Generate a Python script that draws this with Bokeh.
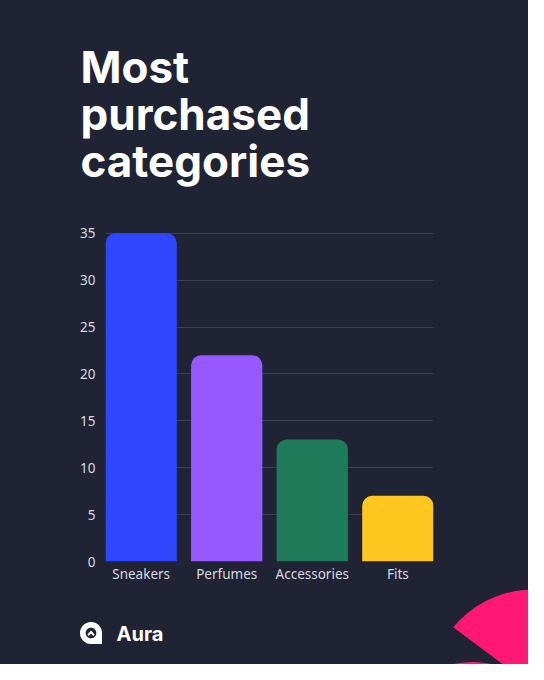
import numpy as np
from bokeh.plotting import figure
from bokeh.layouts import column
from bokeh.models import FactorRange, Range1d, ColumnDataSource
from bokeh.core.properties import value
from bokeh.embed import file_html
from bokeh.resources import INLINE

# ---- data ----
categories = ["Sneakers", "Perfumes", "Accessories", "Fits"]
purchases = [35, 22, 13, 7]
bar_colors = ["#2f47ff", "#9658ff", "#1f7a5a", "#ffc720"]
y_ticks = [0, 5, 10, 15, 20, 25, 30, 35]
title_lines = ["Most", "purchased", "categories"]
brand = "Aura"

# ---- style / layout (pixel positions) ----
BG = "#1f2334"
PINK = "#ff1774"
W = 528
A_H, B_TOP, B_BOT, C_BOT = 205, 205, 589, 664
FL, FR, FT, FB = 105, 433, 230, 561     # chart frame edges in page px
BG_STYLE = {"background-color": BG}


def blank(height, y0, y1):
    f = figure(width=W, height=height, x_range=Range1d(0, W), y_range=Range1d(y1, y0),
               output_backend="svg", toolbar_location=None,
               x_axis_location=None, y_axis_location=None, min_border=0,
               background_fill_color=BG, border_fill_color=BG, outline_line_color=None,
               frame_align=False, styles=BG_STYLE)
    f.grid.visible = False
    return f


# ---- title figure ----
top = blank(A_H, 0, A_H)
top.text(x=[80] * 3, y=[66, 113, 160], text=title_lines,
         text_font=value("Inter"), text_font_style="bold", text_font_size="44px",
         text_color="#ffffff", text_baseline="alphabetic", text_align="left")

# ---- chart figure ----
p = figure(width=W, height=B_BOT - B_TOP,
           x_range=FactorRange(*categories, factor_padding=0.2, range_padding=0),
           y_range=Range1d(0, 35.3),
           output_backend="svg", toolbar_location=None,
           min_border_left=FL, min_border_right=W - FR,
           min_border_top=FT - B_TOP, min_border_bottom=B_BOT - FB,
           background_fill_color=BG, border_fill_color=BG,
           outline_line_color=None, frame_align=False, styles=BG_STYLE)

src = ColumnDataSource(dict(cat=categories, val=purchases, color=bar_colors))
p.vbar(x="cat", top="val", width=1.0, bottom=0, color="color", source=src,
       line_color=None, border_radius=(10, 10, 0, 0))

p.xgrid.grid_line_color = None
p.ygrid.grid_line_color = "#ffffff"
p.ygrid.grid_line_alpha = 0.12
p.ygrid.ticker = y_ticks

for ax in (p.xaxis[0], p.yaxis[0]):
    ax.axis_line_color = None
    ax.major_tick_line_color = None
    ax.minor_tick_line_color = None
    ax.major_tick_out = 0
    ax.major_tick_in = 0
    ax.minor_tick_out = 0
    ax.major_label_text_color = "#d8dae0"
    ax.major_label_text_font = "Noto Sans"
    ax.major_label_text_font_size = "13.5px"
p.yaxis.ticker = y_ticks
p.yaxis.major_label_standoff = 10
p.xaxis.major_label_standoff = 3

# ---- bottom figure: brand + decoration ----
bot = blank(C_BOT - B_BOT, B_BOT, C_BOT)

# pink shapes
t = np.radians(np.linspace(-140.5, 90, 120))
ux = list(533 + 104 * np.cos(t)) + [512]
uy = list(693 + 104 * np.sin(t)) + [671]
t = np.radians(np.linspace(0, 360, 120))
lx = list(472 + 89.5 * np.cos(t))
ly = list(751 + 89.5 * np.sin(t))
bot.patches(xs=[ux, lx], ys=[uy, ly], fill_color=PINK, line_color=None)

# logo icon
cx, cy, r = 90.5, 632.5, 11.0
t = np.radians(np.linspace(90, 360, 60))
ox = list(cx + r * np.cos(t)) + [cx + r]
oy = list(cy + r * np.sin(t)) + [cy + r]
t = np.radians(np.linspace(0, 360, 60))
hx = list(cx + 5.3 * np.cos(t))
hy = list(cy + 5.3 * np.sin(t))
chx = [cx - 3.6, cx, cx + 3.6, cx + 2.3, cx, cx - 2.3]
chy = [cy + 1.6, cy - 2.6, cy + 1.6, cy + 2.9, cy + 0.4, cy + 2.9]
bot.patches(xs=[ox, hx, chx], ys=[oy, hy, chy],
            fill_color=["#ffffff", BG, "#ffffff"], line_color=None)

bot.text(x=[116], y=[633], text=[brand], text_font=value("Inter"),
         text_font_style="bold", text_font_size="20px", text_color="#ffffff",
         text_baseline="alphabetic", text_align="left")

layout = column(top, p, bot, spacing=0, styles=BG_STYLE)
open("out.html", "w").write(file_html(layout, INLINE))
